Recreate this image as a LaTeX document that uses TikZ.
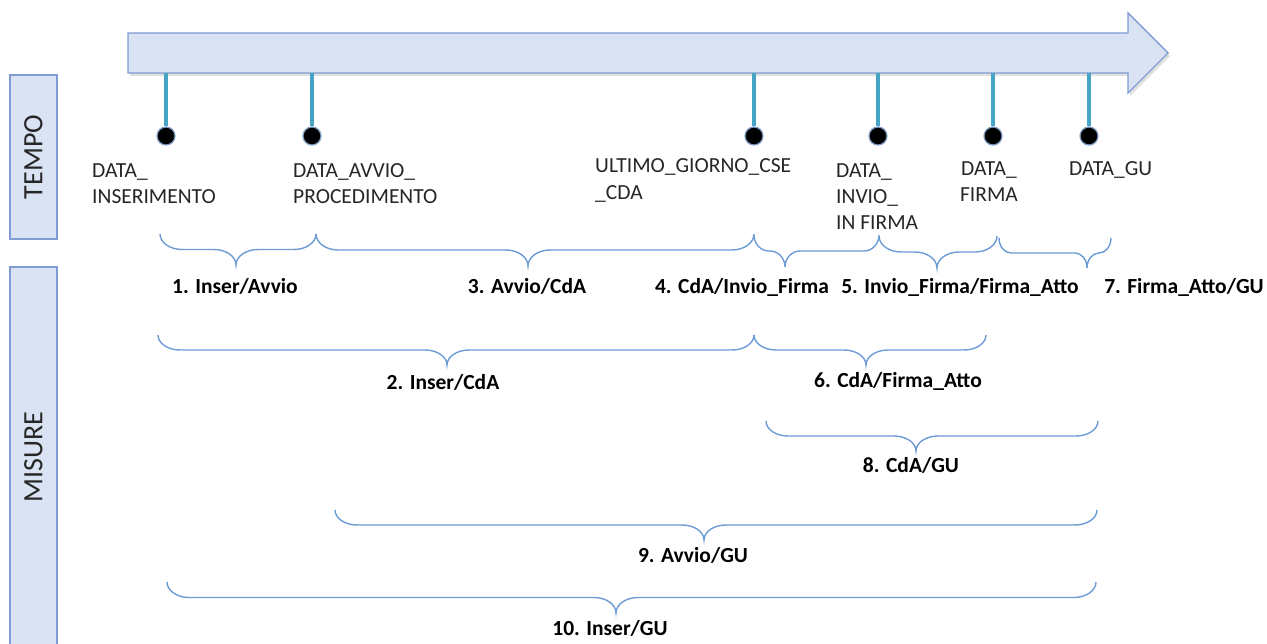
\documentclass[tikz,border=0pt]{standalone}
\usepackage{fontspec}
\setmainfont{Carlito}

\definecolor{panelfill}{HTML}{DAE3F3}
\definecolor{paneledge}{HTML}{7F9CD3}
\definecolor{tickcol}{HTML}{46A5C4}
\definecolor{bracecol}{HTML}{6C9BD6}
\definecolor{dothalo}{HTML}{7E9CC4}
\definecolor{txt}{HTML}{262626}

% measurement brace: x-start, x-point, x-end, y-top, half depth, curl radius
\newcommand\measbrace[6]{%
  \draw[bracestyle] (#1,#4)
    .. controls (#1,#4+0.552*#5) and (#1+0.448*#6,#4+#5) .. (#1+#6,#4+#5)
    -- (#2-#6,#4+#5)
    .. controls (#2-0.448*#6,#4+#5) and (#2,#4+1.448*#5) .. (#2,#4+2*#5)
    .. controls (#2,#4+1.448*#5) and (#2+0.448*#6,#4+#5) .. (#2+#6,#4+#5)
    -- (#3-#6,#4+#5)
    .. controls (#3-0.448*#6,#4+#5) and (#3,#4+0.552*#5) .. (#3,#4);}

\begin{document}
\begin{tikzpicture}[x=1pt,y=-1pt,
  panel/.style={draw=paneledge, fill=panelfill, line width=1.4pt},
  sidebox/.style={panel, rotate=90, minimum height=47pt, inner sep=0pt,
    text=txt, font=\fontsize{28}{32}\selectfont},
  tickline/.style={draw=tickcol, line width=3.4pt},
  dot/.style={circle, fill=black, draw=dothalo, line width=1.2pt,
    minimum size=18pt, inner sep=0pt},
  datelab/.style={inner sep=0pt, text=txt, align=left,
    font=\fontsize{21.5}{26}\selectfont},
  meas/.style={inner sep=0pt, anchor=base, text=black,
    font=\fontsize{21.5}{26}\selectfont\bfseries},
  bracestyle/.style={draw=bracecol, line width=1.4pt}]

\useasboundingbox (0,0) rectangle (1267,644);

% time arrow with a soft shadow
\fill[black, opacity=0.12] (130,36) -- (1130,36) -- (1130,16) -- (1170,56)
  -- (1130,96) -- (1130,76) -- (130,76) -- cycle;
\draw[panel] (128,33) -- (1128,33) -- (1128,13) -- (1168,53)
  -- (1128,93) -- (1128,73) -- (128,73) -- cycle;

% side panels
\node[sidebox, minimum width=164pt] (tempo) at (33.5,157) {TEMPO};
\node[sidebox, minimum width=380pt] (misure) at (33.5,457) {MISURE};

% date markers
\foreach \name/\x in {ins/166, avv/312, cda/754, inv/878, fir/993, gu/1089}{
  \coordinate (t\name) at (\x,73);
  \node[dot] (d\name) at (\x,136) {};
  \draw[tickline] (t\name) -- (d\name.north);
}

% date labels
\node[datelab, anchor=north west] (lins) at (92,163.4) {DATA\_\\INSERIMENTO};
\node[datelab, anchor=north west] (lavv) at (293,163.4) {DATA\_AVVIO\_\\PROCEDIMENTO};
\node[datelab, anchor=north west, font=\fontsize{21.5}{27}\selectfont] (lcda)
  at (595,158.4) {ULTIMO\_GIORNO\_CSE\\\_CDA};
\node[datelab, anchor=north west] (linv) at (836,163.4) {DATA\_\\INVIO\_\\IN FIRMA};
\node[datelab, anchor=north, align=center] (lfir) at (989,161.4) {DATA\_\\FIRMA};
\node[datelab, anchor=north west] (lgu) at (1069,161.4) {DATA\_GU};

% measurement braces
\measbrace{160}{236}{316}{234}{15.5}{22}
\measbrace{316}{528}{754}{234}{16}{22}
\measbrace{754}{785}{879}{235}{16}{15}
\measbrace{879}{937}{997}{236}{16}{22}
\measbrace{999}{1087}{1111}{238}{15}{12}
\measbrace{158}{447}{754}{335}{15}{22}
\measbrace{754}{866}{986}{335}{15}{22}
\measbrace{766}{916}{1098}{421}{15}{22}
\measbrace{335}{704}{1097}{510}{15}{22}
\measbrace{167}{616}{1096}{582}{15.5}{22}

% measurement labels
\node[meas] (m1) at (235,294) {1. Inser/Avvio};
\node[meas] (m3) at (527,294) {3. Avvio/CdA};
\node[meas] (m4) at (742,294) {4. CdA/Invio\_Firma};
\node[meas] (m5) at (960,294) {5. Invio\_Firma/Firma\_Atto};
\node[meas] (m7) at (1184,294) {7. Firma\_Atto/GU};
\node[meas] (m2) at (443,390) {2. Inser/CdA};
\node[meas] (m6) at (898,388) {6. CdA/Firma\_Atto};
\node[meas] (m8) at (911,472) {8. CdA/GU};
\node[meas] (m9) at (693,562) {9. Avvio/GU};
\node[meas] (m10) at (610,635) {10. Inser/GU};

\end{tikzpicture}
\end{document}
